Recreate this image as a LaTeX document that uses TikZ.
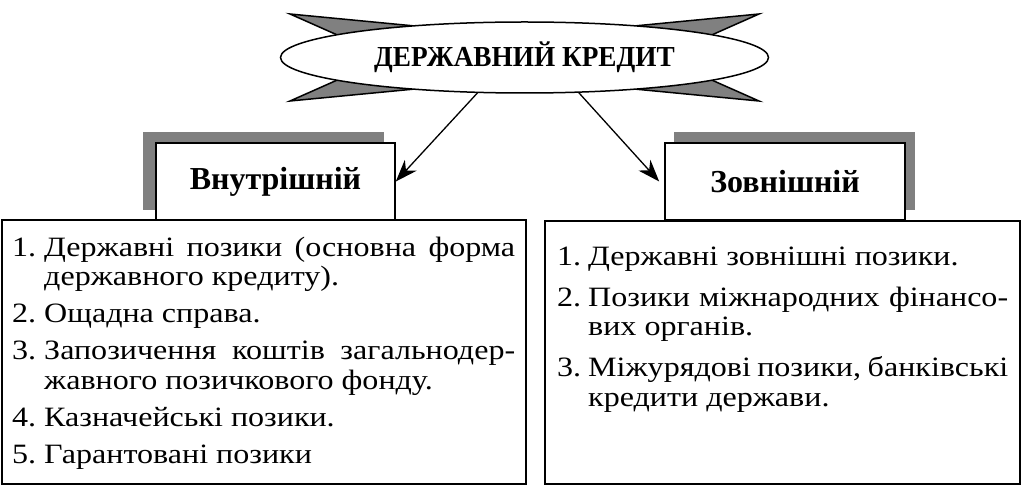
\documentclass[tikz,border=0pt]{standalone}
\usepackage{fontspec}
\setmainfont{Liberation Serif}
\newfontfamily\titlefont{Liberation Serif}[FakeStretch=0.94]
\newfontfamily\bodyfont{Liberation Serif}[FakeStretch=1.145]
\usetikzlibrary{arrows.meta,shapes.geometric}
\definecolor{shadowgray}{RGB}{128,128,128}
\newcommand\litem[3]{\par\hangindent=#3\hangafter=1\noindent\makebox[#3][l]{#1}#2\par}
\begin{document}
\begin{tikzpicture}[x=1pt,y=-1pt,
  wing/.style={fill=shadowgray, draw=black, line width=1.5pt, line join=miter},
  shadowbox/.style={fill=shadowgray, draw=none},
  labelbox/.style={draw=black, fill=white, line width=1.6pt, inner sep=0pt,
    font=\bfseries\fontsize{32}{34}\selectfont},
  listbox/.style={draw=black, line width=1.6pt, inner sep=0pt},
  listtext/.style={anchor=base west, inner sep=0pt, font=\bodyfont\fontsize{28}{29.5}\selectfont},
  arr/.style={line width=1.3pt, -{Stealth[length=22pt,width=16pt,inset=7pt]}},
]
\useasboundingbox (0,0) rectangle (1024,486);
% wings of the star
\draw[wing] (290,14) -- (440,28.4) -- (345,38.4) -- cycle;
\draw[wing] (759,14) -- (609,28.4) -- (704,38.4) -- cycle;
\draw[wing] (290,101) -- (440,86.6) -- (345,76.6) -- cycle;
\draw[wing] (759,101) -- (609,86.6) -- (704,76.6) -- cycle;
\node[ellipse, draw=black, fill=white, line width=1.5pt, minimum width=488pt,
  minimum height=71pt, inner sep=0pt, font=\titlefont\bfseries\fontsize{29}{32}\selectfont]
  (title) at (524.5,57.5) {ДЕРЖАВНИЙ КРЕДИТ};
% shadows
\fill[shadowbox] (143,132) rectangle (384,210);
\fill[shadowbox] (674,132) rectangle (915,210);
% list boxes
\node[listbox, minimum width=524pt, minimum height=264pt] (llist) at (264,352) {};
\node[listbox, minimum width=475pt, minimum height=263pt] (rlist) at (782.5,352.5) {};
% label boxes
\node[labelbox, minimum width=239pt, minimum height=77pt] (lbox) at (275.5,181.5) {Внутрішній};
\node[labelbox, minimum width=240pt, minimum height=77pt] (rbox) at (785,181.5) {Зовнішній};
% arrows
\draw[arr] (title.217.4) -- (lbox.east);
\draw[arr] (title.-33.6) -- ([xshift=-5pt]rbox.west);
% texts
\node[listtext] (ltext) at (12,256) {\begin{minipage}[t]{503pt}\parskip=7.5pt
\litem{1.}{\makebox[471pt][s]{Державні позики (основна форма}\\державного кредиту).}{32pt}
\litem{2.}{Ощадна справа.}{32pt}
\litem{3.}{\makebox[471pt][s]{Запозичення коштів загальнодер-}\\жавного позичкового фонду.}{32pt}
\litem{4.}{Казначейські позики.}{32pt}
\litem{5.}{Гарантовані позики}{32pt}
\end{minipage}};
\node[listtext] (rtext) at (557,265) {\begin{minipage}[t]{451pt}\parskip=11.5pt
\litem{1.}{Державні зовнішні позики.}{31pt}
\litem{2.}{\makebox[420pt][s]{Позики міжнародних фінансо-}\\вих органів.}{31pt}
\litem{3.}{\makebox[420pt][s]{Міжурядові позики, банківські}\\кредити держави.}{31pt}
\end{minipage}};
\end{tikzpicture}
\end{document}
